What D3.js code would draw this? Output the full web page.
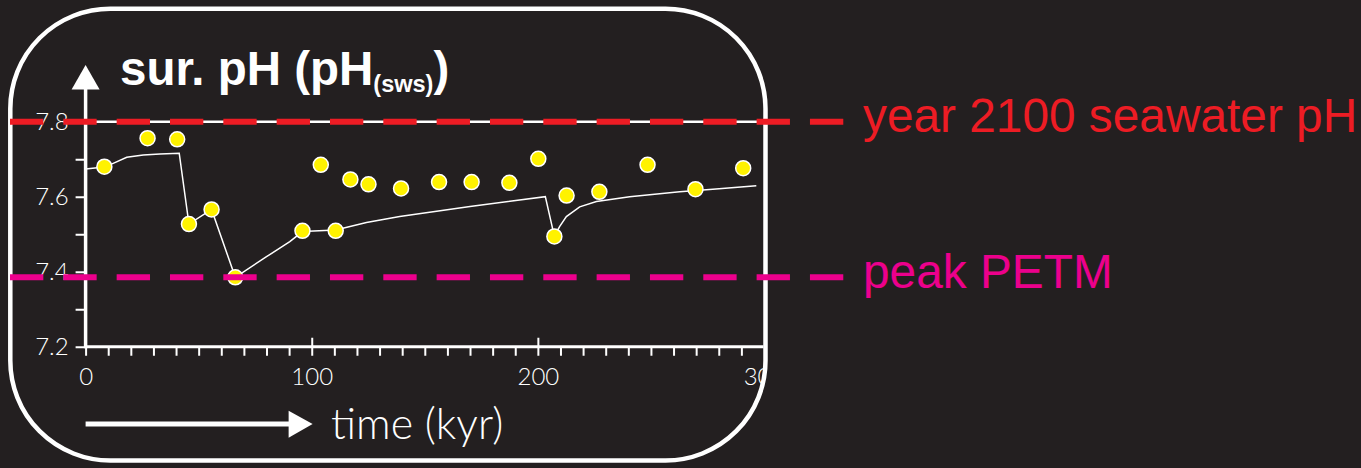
<!DOCTYPE html>
<html>
<head>
<meta charset="utf-8">
<script src="https://cdn.jsdelivr.net/npm/d3@7/dist/d3.min.js"></script>
<style>
  html, body { margin: 0; padding: 0; background: #231f20; }
  svg { display: block; }
</style>
</head>
<body>
<svg id="chart" width="1361" height="468"></svg>
<script>
// Surface-ocean pH (seawater scale) through the event, kyr after onset
const sampleTime = [8.3, 27.4, 40.5, 45.7, 55.7, 66.2, 95.9, 104.0, 110.6, 117.1, 125.1,
                    139.5, 156.3, 170.7, 187.4, 200.2, 207.3, 212.7, 227.2, 248.5, 269.7, 290.8];
const samplePH   = [7.680, 7.756, 7.753, 7.527, 7.566, 7.385, 7.509, 7.685, 7.509, 7.646, 7.633,
                    7.622, 7.639, 7.639, 7.637, 7.701, 7.494, 7.603, 7.613, 7.685, 7.620, 7.676];

// Model curve
const modelTime = [0, 8.3, 12.2, 18.2, 25.5, 32.9, 41.4, 45.7, 55.7, 66.2, 80.0, 90.3, 95.9,
                   110.6, 124.2, 138.9, 170, 203.3, 207.3, 209.6, 212.6, 218.5, 225.9, 240.6,
                   262.7, 277.4, 296.6];
const modelPH   = [7.674, 7.679, 7.689, 7.705, 7.711, 7.714, 7.716, 7.527, 7.566, 7.385, 7.440,
                   7.480, 7.507, 7.511, 7.531, 7.547, 7.574, 7.600, 7.494, 7.520, 7.547, 7.573,
                   7.587, 7.600, 7.613, 7.620, 7.629];

// Reference levels
const refLabels = ["year 2100 seawater pH", "peak PETM"];
const refValues = [7.8, 7.385];
const refColors = ["#ed1c24", "#ec008c"];

const yTicks = [7.2, 7.3, 7.4, 7.5, 7.6, 7.7, 7.8];
const yLabelled = [7.2, 7.4, 7.6, 7.8];
const xTicks = d3.range(0, 301, 10);
const xLabelled = [0, 100, 200, 300];
const xMajor = [100, 200];

const svg = d3.select("#chart");
const W = 1361, H = 468;

svg.append("rect").attr("width", W).attr("height", H).attr("fill", "#231f20");

const x = d3.scaleLinear().domain([0, 300]).range([85.6, 764]);
const y = d3.scaleLinear().domain([7.2, 7.8]).range([346.7, 121.7]);

// Rounded panel used to clip the plot
const panel = { x: 10.3, y: 8.7, w: 755.2, h: 451.8, r: 100 };
const defs = svg.append("defs");
defs.append("clipPath").attr("id", "panelClip")
  .append("rect")
  .attr("x", panel.x + 2).attr("y", panel.y + 2)
  .attr("width", panel.w - 4).attr("height", panel.h - 4)
  .attr("rx", panel.r - 2).attr("ry", panel.r - 2);

const g = svg.append("g").attr("clip-path", "url(#panelClip)");

const tickFont = "Lato, 'Open Sans', sans-serif";

// Top frame line at the upper pH bound
g.append("line")
  .attr("x1", x(0)).attr("x2", x(300))
  .attr("y1", y(7.8)).attr("y2", y(7.8))
  .attr("stroke", "#fff").attr("stroke-width", 2.5);

// Y axis
const yAxis = d3.axisLeft(y)
  .tickValues(yTicks)
  .tickSize(10)
  .tickPadding(7)
  .tickFormat(d => yLabelled.some(v => Math.abs(v - d) < 1e-9) ? d3.format(".1f")(d) : "");
const gy = g.append("g").attr("transform", `translate(${x(0)},0)`).call(yAxis);
gy.select(".domain").remove();
gy.selectAll(".tick line").attr("stroke", "#fff").attr("stroke-width", 2);
gy.selectAll(".tick text")
  .attr("fill", "#fff").attr("font-family", tickFont).attr("font-weight", 300)
  .attr("font-size", 24);

// X axis (minor ticks down, labels at the hundreds)
const xAxis = d3.axisBottom(x)
  .tickValues(xTicks)
  .tickSize(9)
  .tickPadding(12)
  .tickFormat(d => xLabelled.includes(d) ? String(d) : "");
const gx = g.append("g").attr("transform", `translate(0,${y(7.2)})`).call(xAxis);
gx.select(".domain").remove();
gx.selectAll(".tick line").attr("stroke", "#fff").attr("stroke-width", 2);
gx.selectAll(".tick text")
  .attr("fill", "#fff").attr("font-family", tickFont).attr("font-weight", 300)
  .attr("font-size", 24);

// Major ticks also rise above the axis
const xAxisUp = d3.axisBottom(x).tickValues(xMajor).tickSize(-9).tickFormat("");
const gxu = g.append("g").attr("transform", `translate(0,${y(7.2)})`).call(xAxisUp);
gxu.select(".domain").remove();
gxu.selectAll(".tick line").attr("stroke", "#fff").attr("stroke-width", 2);

// Axis lines
g.append("line")
  .attr("x1", x(0)).attr("x2", x(300))
  .attr("y1", y(7.2)).attr("y2", y(7.2))
  .attr("stroke", "#fff").attr("stroke-width", 3);
g.append("line")
  .attr("x1", x(0)).attr("x2", x(0))
  .attr("y1", y(7.2) + 1.5).attr("y2", 88)
  .attr("stroke", "#fff").attr("stroke-width", 3.5);
// Upward arrowhead
g.append("path")
  .attr("d", `M${x(0)},65 L${x(0) - 14},89.5 L${x(0) + 14},89.5 Z`)
  .attr("fill", "#fff");

// Model curve
const line = d3.line()
  .x((d, i) => x(modelTime[i]))
  .y((d, i) => y(modelPH[i]))
  .curve(d3.curveLinear);
g.append("path")
  .datum(modelPH)
  .attr("d", line)
  .attr("fill", "none").attr("stroke", "#fff").attr("stroke-width", 1.5);

// Samples
g.selectAll("circle.sample")
  .data(samplePH)
  .join("circle")
  .attr("class", "sample")
  .attr("cx", (d, i) => x(sampleTime[i]))
  .attr("cy", d => y(d))
  .attr("r", 7.5)
  .attr("fill", "#fff200")
  .attr("stroke", "#fff").attr("stroke-width", 1.5);

// Title
const title = g.append("text")
  .attr("x", 120).attr("y", 84.5)
  .attr("fill", "#fff")
  .attr("font-family", "'Liberation Sans', Arial, sans-serif")
  .attr("font-weight", "bold")
  .attr("font-size", 47.5);
title.append("tspan").text("sur. pH (pH");
title.append("tspan").attr("font-size", 23.5).attr("dy", 7.5).text("(sws)");
title.append("tspan").attr("dy", -7.5).text(")");

// Time arrow and label
g.append("line")
  .attr("x1", x(0)).attr("x2", 290)
  .attr("y1", 424).attr("y2", 424)
  .attr("stroke", "#fff").attr("stroke-width", 5);
g.append("path")
  .attr("d", "M288.6,410.7 L312.6,424 L288.6,437.7 Z")
  .attr("fill", "#fff");
g.append("text")
  .attr("x", 331).attr("y", 438.5)
  .attr("fill", "#fff")
  .attr("font-family", tickFont).attr("font-weight", 300)
  .attr("font-size", 43)
  .text("time (kyr)");

// Panel border
svg.append("rect")
  .attr("x", panel.x).attr("y", panel.y)
  .attr("width", panel.w).attr("height", panel.h)
  .attr("rx", panel.r).attr("ry", panel.r)
  .attr("fill", "none").attr("stroke", "#fff").attr("stroke-width", 4.5);

// Reference levels, dashed across the panel with labels outside
refValues.forEach((v, i) => {
  svg.append("line")
    .attr("x1", 10).attr("x2", 843.4)
    .attr("y1", y(v)).attr("y2", y(v))
    .attr("stroke", refColors[i]).attr("stroke-width", 6)
    .attr("stroke-dasharray", "33.33,20");
  svg.append("text")
    .attr("x", 863).attr("y", y(v) + 10.5)
    .attr("fill", refColors[i])
    .attr("font-family", "'Liberation Sans', Arial, sans-serif")
    .attr("font-size", 47.8)
    .text(refLabels[i]);
});
</script>
</body>
</html>
